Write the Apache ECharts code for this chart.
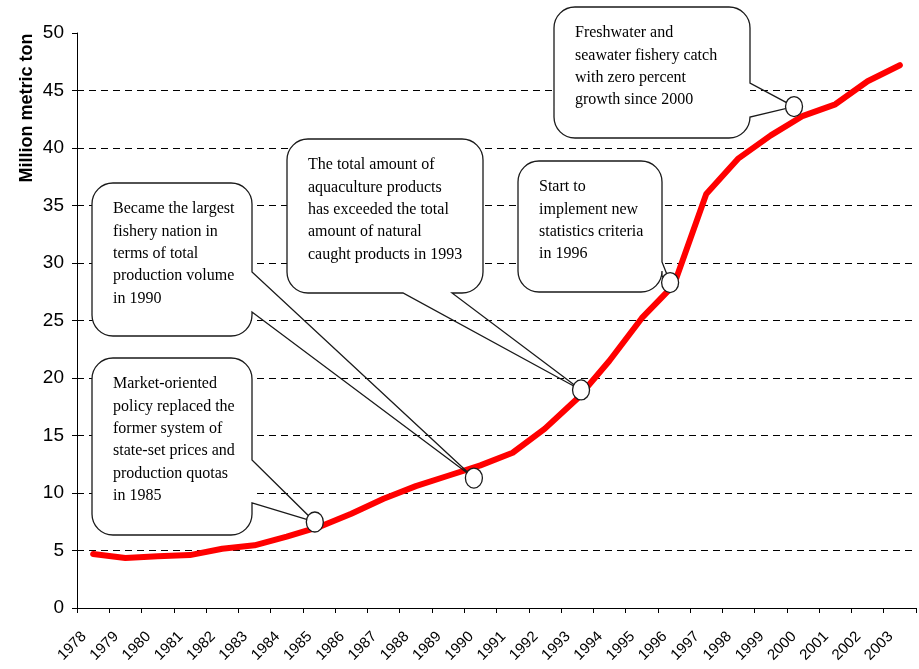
<!DOCTYPE html>
<html>
<head>
<meta charset="utf-8">
<script src="https://cdn.jsdelivr.net/npm/echarts@6/dist/echarts.min.js"></script>
<style>
  html, body { margin: 0; padding: 0; background: #fff; }
  #chart { width: 919px; height: 669px; }
</style>
</head>
<body>
<div id="chart"></div>
<script>
// Total fishery production, million metric tons
const years = ['1978', '1979', '1980', '1981', '1982', '1983', '1984', '1985', '1986',
  '1987', '1988', '1989', '1990', '1991', '1992', '1993', '1994', '1995', '1996',
  '1997', '1998', '1999', '2000', '2001', '2002', '2003'];
const production = [4.7, 4.35, 4.5, 4.6, 5.15, 5.45, 6.2, 7.05, 8.2, 9.5, 10.6, 11.5,
  12.4, 13.5, 15.6, 18.2, 21.5, 25.2, 28.1, 36.0, 39.1, 41.1, 42.8, 43.8, 45.8, 47.2];

// Milestone notes and the point (year index, value) each one refers to
const noteTexts = [
  'Market-oriented\npolicy replaced the\nformer system of\nstate-set prices and\nproduction quotas\nin 1985',
  'Became the largest\nfishery nation in\nterms of total\nproduction volume\nin 1990',
  'The total amount of\naquaculture products\nhas exceeded the total\namount of natural\ncaught products in 1993',
  'Start to\nimplement new\nstatistics criteria\nin 1996',
  'Freshwater and\nseawater fishery catch\nwith zero percent\ngrowth since 2000'
];
const noteAnchors = [[6.87, 7.48], [11.8, 11.3], [15.12, 18.96], [17.88, 28.3], [21.72, 43.6]];

// Callout box layout (pixels) and where each pointer leaves its box
const noteBoxes = [
  { left: 92, top: 358, right: 252, bottom: 535, wedge: { side: 'right', from: 460, to: 503 } },
  { left: 92, top: 183, right: 252, bottom: 336, wedge: { side: 'right', from: 272, to: 312 } },
  { left: 287, top: 139, right: 483, bottom: 293, wedge: { side: 'bottom', from: 403, to: 452 } },
  { left: 518, top: 161, right: 662, bottom: 292, wedge: { side: 'right', from: 262, to: 276 } },
  { left: 554, top: 7, right: 750, bottom: 138, wedge: { side: 'right', from: 83, to: 117 } }
];
const CORNER = 21;
const K = 0.5523;

function outlinePath(b, tip) {
  const x0 = b.left, y0 = b.top, x1 = b.right, y1 = b.bottom, r = CORNER, w = b.wedge;
  const c = r * (1 - K);
  let d = `M${x0 + r},${y0} L${x1 - r},${y0} C${x1 - c},${y0} ${x1},${y0 + c} ${x1},${y0 + r} `;
  if (w.side === 'right') d += `L${x1},${w.from} L${tip[0]},${tip[1]} L${x1},${w.to} `;
  d += `L${x1},${y1 - r} C${x1},${y1 - c} ${x1 - c},${y1} ${x1 - r},${y1} `;
  if (w.side === 'bottom') d += `L${w.to},${y1} L${tip[0]},${tip[1]} L${w.from},${y1} `;
  d += `L${x0 + r},${y1} C${x0 + c},${y1} ${x0},${y1 - c} ${x0},${y1 - r} `;
  d += `L${x0},${y0 + r} C${x0},${y0 + c} ${x0 + c},${y0} ${x0 + r},${y0} Z`;
  return d;
}

function ellipsePath(cx, cy, rx, ry) {
  return `M${cx - rx},${cy} A${rx} ${ry} 0 1 0 ${cx + rx},${cy} A${rx} ${ry} 0 1 0 ${cx - rx},${cy} Z`;
}

const chart = echarts.init(document.getElementById('chart'), null, { renderer: 'canvas' });

chart.setOption({
  animation: false,
  backgroundColor: '#fff',
  grid: { left: 77, right: 3, top: 33, bottom: 61, containLabel: false, outerBoundsMode: 'none' },
  graphic: [{
    type: 'text',
    x: 27, y: 108,
    rotation: Math.PI / 2,
    style: {
      text: 'Million metric ton',
      font: 'bold 18px "Liberation Sans", Arial, sans-serif',
      fill: '#000',
      align: 'center',
      verticalAlign: 'middle'
    }
  }],
  xAxis: [{
    type: 'category',
    data: years,
    boundaryGap: true,
    axisLine: { onZero: false, lineStyle: { color: '#000', width: 1 } },
    axisTick: { show: true, length: 5, alignWithLabel: false, lineStyle: { color: '#000' } },
    axisLabel: {
      rotate: 45, interval: 0, margin: 17, padding: [0, 13, 0, 0],
      fontFamily: '"Liberation Sans", Arial, sans-serif', fontSize: 15, color: '#000'
    },
    splitLine: { show: false }
  }, {
    type: 'value', show: false, min: -0.5, max: 25.5
  }],
  yAxis: {
    type: 'value',
    min: 0, max: 50, interval: 5,
    axisLine: { show: true, onZero: false, lineStyle: { color: '#000', width: 1 } },
    axisTick: { show: true, length: 5, lineStyle: { color: '#000' } },
    axisLabel: {
      margin: 13,
      fontFamily: '"Liberation Sans", Arial, sans-serif', fontSize: 19, color: '#000'
    },
    splitLine: {
      show: true, showMaxLine: false,
      lineStyle: { color: '#000', width: 1, type: [7, 5] }
    }
  },
  series: [{
    type: 'line',
    data: production,
    symbol: 'none',
    lineStyle: { color: '#ff0000', width: 6, cap: 'round', join: 'round' },
    z: 3
  }, {
    type: 'custom',
    xAxisIndex: 1,
    yAxisIndex: 0,
    data: noteAnchors,
    z: 5,
    clip: false,
    renderItem: function (params, api) {
      const i = params.dataIndex;
      const b = noteBoxes[i];
      const tip = api.coord([api.value(0), api.value(1)]);
      return {
        type: 'group',
        children: [{
          type: 'rect',
          shape: { x: b.left, y: b.top, width: b.right - b.left, height: b.bottom - b.top, r: CORNER },
          style: { fill: '#fff' }
        }, {
          type: 'path',
          shape: { pathData: outlinePath(b, tip) },
          style: { fill: 'none', stroke: '#1a1a1a', lineWidth: 1.3 }
        }, {
          type: 'text',
          x: b.left + 21,
          y: b.top + 15,
          style: {
            text: noteTexts[i],
            font: '16px "Liberation Serif", "Times New Roman", serif',
            fill: '#000',
            align: 'left',
            verticalAlign: 'top',
            lineHeight: 22.3
          }
        }, {
          type: 'path',
          shape: { pathData: ellipsePath(tip[0], tip[1], 8.5, 10) },
          style: { fill: '#fff', stroke: '#1a1a1a', lineWidth: 1.3 }
        }]
      };
    }
  }]
});
</script>
</body>
</html>
